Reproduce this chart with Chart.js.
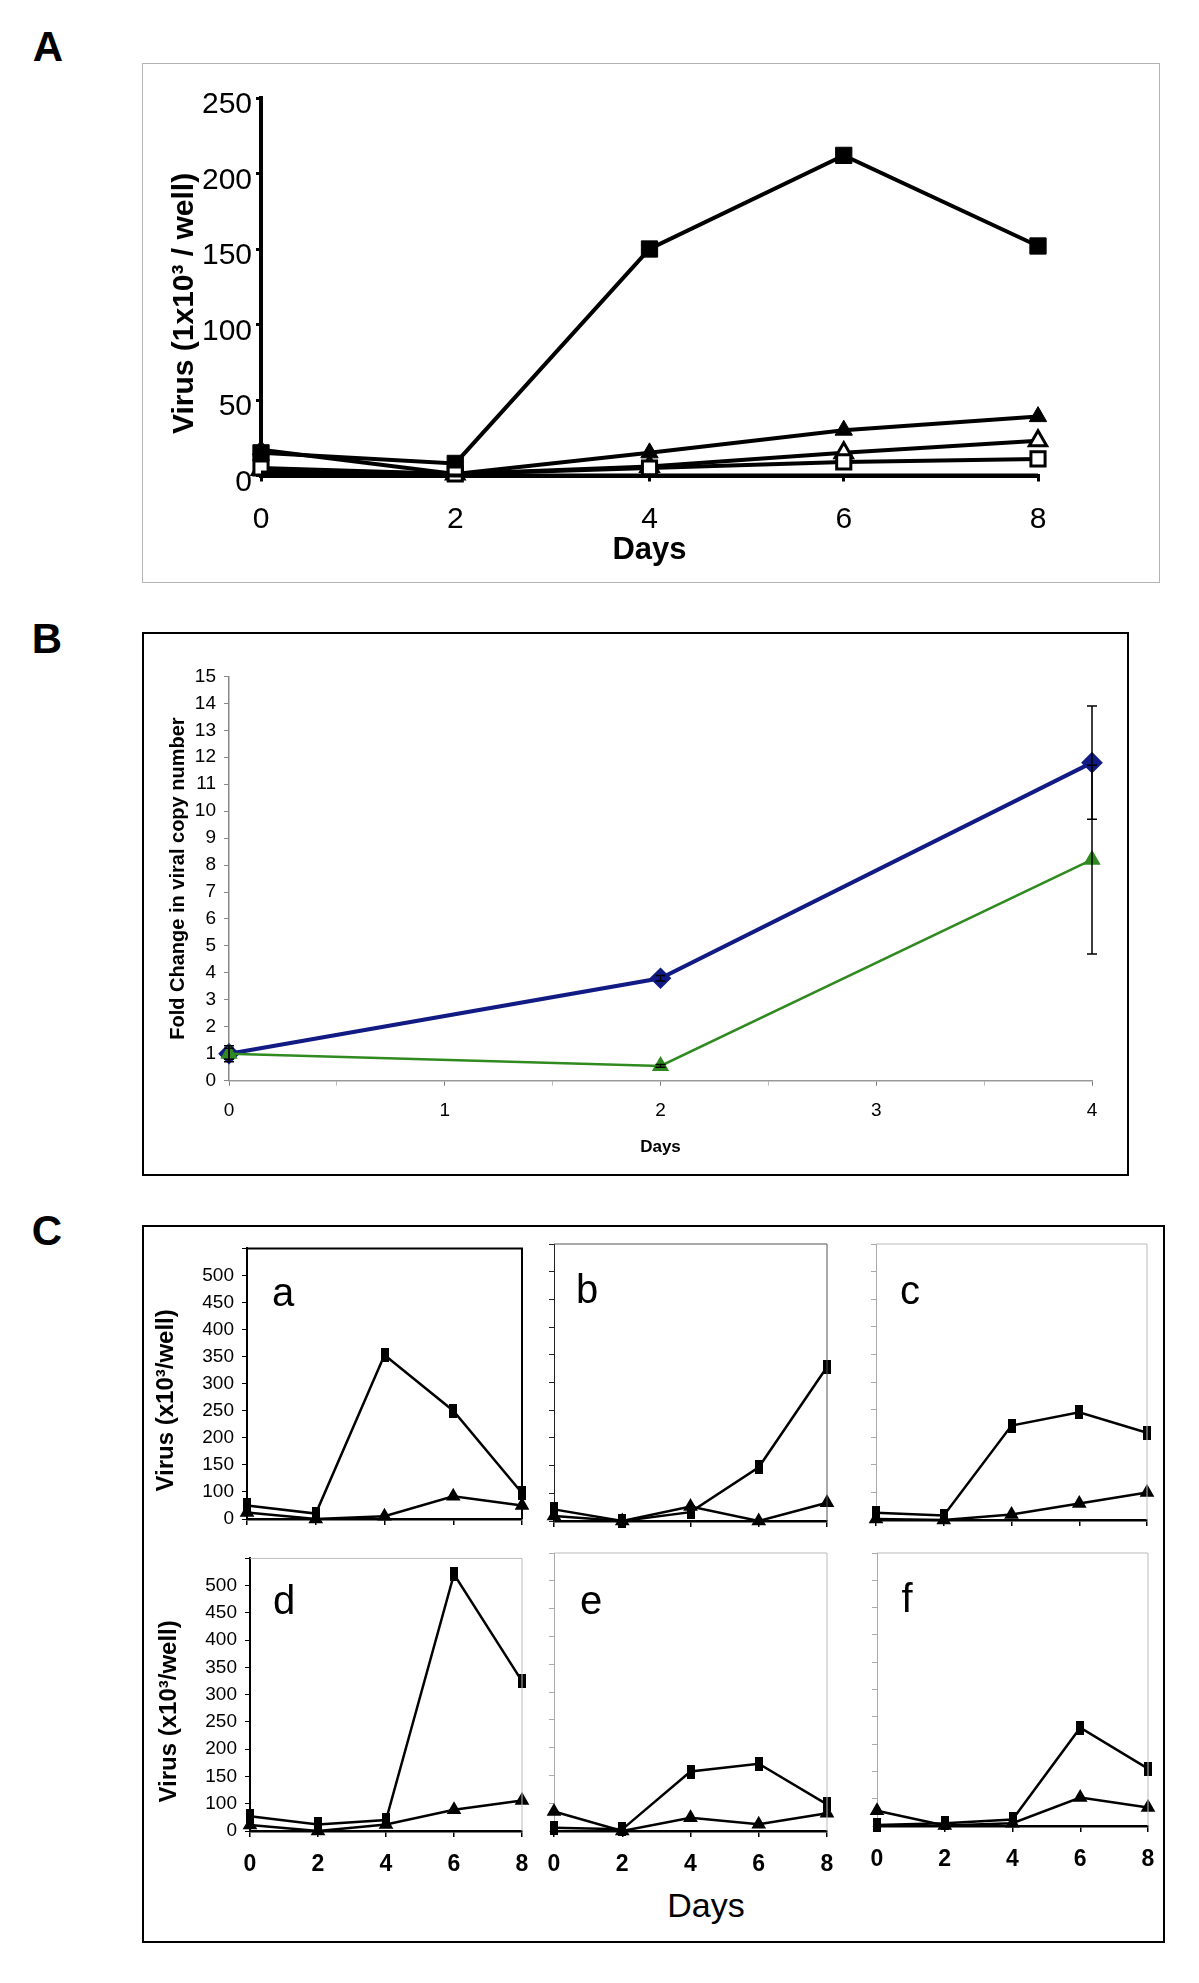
<!DOCTYPE html>
<html>
<head>
<meta charset="utf-8">
<script src="https://cdn.jsdelivr.net/npm/chart.js@4.4.1/dist/chart.umd.min.js"></script>
<style>
  body { margin: 0; background: #fff; width: 1199px; height: 1983px; position: relative; overflow: hidden; font-family: "Liberation Sans", Arial, sans-serif; }
  canvas, .lbl, .box { position: absolute; }
  .box { box-sizing: border-box; }
  .lbl { line-height: 1; white-space: nowrap; transform: translate(-50%, -50%); color: #000; }
</style>
</head>
<body>
<div class="lbl" style="left:48px;top:47px;font-weight:bold;font-size:42px">A</div>
<div class="box" style="left:142px;top:63px;width:1018px;height:520px;border:1px solid #b4b4b4"></div>
<canvas id="chartA" style="left:142px;top:64px" width="1018" height="519"></canvas>

<div class="lbl" style="left:47px;top:639px;font-weight:bold;font-size:42px">B</div>
<div class="box" style="left:142px;top:632px;width:987px;height:544px;border:2px solid #000"></div>
<canvas id="chartB" style="left:144px;top:634px" width="983" height="540"></canvas>

<div class="lbl" style="left:47px;top:1231px;font-weight:bold;font-size:42px">C</div>
<div class="box" style="left:142px;top:1225px;width:1023px;height:718px;border:2px solid #000"></div>
<canvas id="ca"></canvas>
<canvas id="cb"></canvas>
<canvas id="cc"></canvas>
<canvas id="cd"></canvas>
<canvas id="ce"></canvas>
<canvas id="cf"></canvas>
<div class="lbl" style="left:283px;top:1292px;font-size:40px">a</div>
<div class="lbl" style="left:587px;top:1289px;font-size:40px">b</div>
<div class="lbl" style="left:910px;top:1290px;font-size:40px">c</div>
<div class="lbl" style="left:284px;top:1600px;font-size:40px">d</div>
<div class="lbl" style="left:591px;top:1600px;font-size:40px">e</div>
<div class="lbl" style="left:907px;top:1598px;font-size:40px">f</div>
<div class="lbl" style="left:706px;top:1905px;font-size:34px">Days</div>

<script>
// ---- panel A : virus yield, five conditions ----
const daysA = [0, 2, 4, 6, 8];
const filledSquareA = [15, 8, 150, 212, 152];
const filledTriangleA = [17, 1, 15, 30, 39];
const openTriangleA = [4, 1, 6, 15, 23];
const openSquareA = [5, 1, 5, 9, 11];
const baselineA = [2, 0, 0, 0, 0];
const yTicksA = [0, 50, 100, 150, 200, 250];
const xTicksA = [0, 2, 4, 6, 8];

// ---- panel B : fold change in viral copy number ----
const daysB = [0, 2, 4];
const blueB = [1.0, 3.8, 11.8];
const blueErrB = [0.3, 0.1, 2.1];
const greenB = [1.0, 0.55, 8.2];
const greenErrB = [0.2, 0.05, 3.5];
const yTicksB = [0, 1, 2, 3, 4, 5, 6, 7, 8, 9, 10, 11, 12, 13, 14, 15];
const xTicksB = [0, 0.5, 1, 1.5, 2, 2.5, 3, 3.5, 4];
const xLabelsB = ['0', '1', '2', '3', '4'];

// ---- panel C : six small yield curves (axis line sits at the tick labelled "0") ----
const daysC = [0, 2, 4, 6, 8];
const yTicksC = [50, 100, 150, 200, 250, 300, 350, 400, 450, 500, 550];
const yLabelsC = ['0', '100', '150', '200', '250', '300', '350', '400', '450', '500', ''];
const squaresCa = [75, 60, 353, 250, 98];
const trianglesCa = [62, 50, 55, 92, 75];
const squaresCb = [71, 50, 66, 147, 328];
const trianglesCb = [59, 50, 76, 50, 83];
const squaresCc = [63, 58, 221, 245, 208];
const trianglesCc = [52, 50, 60, 80, 100];
const squaresCd = [77, 62, 70, 521, 325];
const trianglesCd = [61, 50, 62, 89, 106];
const squaresCe = [56, 53, 157, 171, 98];
const trianglesCe = [85, 50, 74, 62, 82];
const squaresCf = [52, 55, 62, 230, 155];
const trianglesCf = [78, 51, 55, 102, 84];

const FONT = "'Liberation Sans', Arial, sans-serif";

function points(xs, ys) {
  return xs.map((x, i) => ({ x: x, y: ys[i] }));
}

// draws the top and right edges of the plot area
const framePlugin = {
  id: 'frame',
  afterDraw(chart, args, opts) {
    if (!opts.color) return;
    const a = chart.chartArea, ctx = chart.ctx;
    ctx.save();
    ctx.strokeStyle = opts.color;
    ctx.lineWidth = opts.width || 1;
    ctx.beginPath();
    ctx.moveTo(a.left, a.top);
    ctx.lineTo(a.right, a.top);
    ctx.lineTo(a.right, a.bottom);
    ctx.stroke();
    ctx.restore();
  }
};

const errorBarPlugin = {
  id: 'errorBars',
  afterDatasetsDraw(chart) {
    const ctx = chart.ctx, xs = chart.scales.x, ys = chart.scales.y;
    ctx.save();
    ctx.strokeStyle = '#000';
    ctx.lineWidth = 1.5;
    chart.data.datasets.forEach(ds => {
      if (!ds.errors) return;
      ds.data.forEach((p, i) => {
        const px = xs.getPixelForValue(p.x);
        const top = ys.getPixelForValue(p.y + ds.errors[i]);
        const bot = ys.getPixelForValue(p.y - ds.errors[i]);
        ctx.beginPath();
        ctx.moveTo(px, top); ctx.lineTo(px, bot);
        ctx.moveTo(px - 5, top); ctx.lineTo(px + 5, top);
        ctx.moveTo(px - 5, bot); ctx.lineTo(px + 5, bot);
        ctx.stroke();
      });
    });
    ctx.restore();
  }
};

Chart.defaults.font.family = FONT;
Chart.defaults.color = '#000';

// ---------------- A ----------------
function seriesA(ys, style, fill, radius) {
  return {
    data: points(daysA, ys),
    borderColor: '#000',
    borderWidth: 4,
    pointStyle: style,
    pointRadius: radius,
    pointBackgroundColor: fill,
    pointBorderColor: '#000',
    pointBorderWidth: fill === '#fff' ? 3 : 1,
    clip: false
  };
}

new Chart(document.getElementById('chartA'), {
  type: 'line',
  data: {
    datasets: [
      seriesA(baselineA, 'circle', '#000', 0),
      seriesA(openSquareA, 'rect', '#fff', 10),
      seriesA(openTriangleA, 'triangle', '#fff', 10),
      seriesA(filledTriangleA, 'triangle', '#000', 10),
      seriesA(filledSquareA, 'rect', '#000', 11.5)
    ]
  },
  options: {
    responsive: false,
    animation: false,
    devicePixelRatio: 1,
    layout: { padding: { top: 34, right: 122, bottom: 0, left: 0 } },
    plugins: { legend: { display: false }, tooltip: { enabled: false } },
    scales: {
      x: {
        type: 'linear', min: 0, max: 8,
        afterBuildTicks: s => { s.ticks = xTicksA.map(v => ({ value: v })); },
        ticks: { font: { size: 30 }, padding: 20 },
        grid: { drawOnChartArea: false, tickLength: 6, color: '#000', lineWidth: 3 },
        border: { color: '#000', width: 4 },
        title: { display: true, text: 'Days', font: { size: 31, weight: 'bold' }, padding: { top: 0, bottom: 14 } },
        afterFit: s => { s.height = 107.5; }
      },
      y: {
        min: 0, max: 250,
        afterBuildTicks: s => { s.ticks = yTicksA.map(v => ({ value: v })); },
        ticks: { font: { size: 30 }, padding: 4, labelOffset: 7 },
        grid: { drawOnChartArea: false, tickLength: 5, color: '#000', lineWidth: 3 },
        border: { color: '#000', width: 4 },
        title: { display: true, text: 'Virus (1x10\u00b3 / well)\u00a0\u00a0\u00a0\u00a0', font: { size: 30, weight: 'bold' }, padding: { top: 25, bottom: 0 } },
        afterFit: s => { s.width = 119; }
      }
    }
  }
});

// ---------------- B ----------------
new Chart(document.getElementById('chartB'), {
  type: 'line',
  data: {
    datasets: [
      {
        data: points(daysB, greenB),
        errors: greenErrB,
        borderColor: '#2f8a1f',
        borderWidth: 2.5,
        pointStyle: 'triangle',
        pointRadius: 7.5,
        pointBackgroundColor: '#2f8a1f',
        pointBorderColor: '#2f8a1f',
        clip: false
      },
      {
        data: points(daysB, blueB),
        errors: blueErrB,
        borderColor: '#121a84',
        borderWidth: 4,
        pointStyle: 'rectRot',
        pointRadius: 8,
        pointBackgroundColor: '#121a84',
        pointBorderColor: '#121a84',
        clip: false
      }
    ]
  },
  options: {
    responsive: false,
    animation: false,
    devicePixelRatio: 1,
    layout: { padding: { top: 42.4, right: 35, bottom: 0, left: 0 } },
    plugins: { legend: { display: false }, tooltip: { enabled: false } },
    scales: {
      x: {
        type: 'linear', min: 0, max: 4,
        afterBuildTicks: s => { s.ticks = xTicksB.map(v => ({ value: v })); },
        ticks: {
          font: { size: 19 }, padding: 14,
          callback: v => Number.isInteger(v) ? xLabelsB[v] : ''
        },
        grid: {
          drawOnChartArea: false, tickLength: 5, lineWidth: 1,
          color: c => (c.tick && Number.isInteger(c.tick.value)) ? '#777' : '#bbb'
        },
        border: { color: '#999', width: 1.5 },
        title: { display: true, text: 'Days', font: { size: 17, weight: 'bold' }, padding: { top: 0, bottom: 16 } },
        afterFit: s => { s.height = 93.3; }
      },
      y: {
        min: 0, max: 15,
        afterBuildTicks: s => { s.ticks = yTicksB.map(v => ({ value: v })); },
        ticks: { font: { size: 19 }, padding: 8 },
        grid: { drawOnChartArea: false, tickLength: 5, color: '#888', lineWidth: 1 },
        border: { color: '#888', width: 1.5 },
        title: { display: true, text: 'Fold Change in viral copy number', font: { size: 20, weight: 'bold' }, padding: { top: 22, bottom: 0 } },
        afterFit: s => { s.width = 85; }
      }
    }
  },
  plugins: [errorBarPlugin]
});

// ---------------- C ----------------
const barMark = document.createElement('canvas');
barMark.width = 8; barMark.height = 14;
(function () { const c = barMark.getContext('2d'); c.fillStyle = '#000'; c.fillRect(0, 0, 8, 14); })();

const cLayout = [
  { id: 'ca', sq: squaresCa, tri: trianglesCa, left: 247, right: 522, top: 1243, bottom: 1519, yLabels: true,  xLabels: false, axis: '#000', frame: '#000' },
  { id: 'cb', sq: squaresCb, tri: trianglesCb, left: 554, right: 827, top: 1244, bottom: 1521, yLabels: false, xLabels: false, axis: '#222', frame: '#555' },
  { id: 'cc', sq: squaresCc, tri: trianglesCc, left: 876, right: 1147, top: 1244, bottom: 1520, yLabels: false, xLabels: false, axis: '#aaa', frame: '#bbb' },
  { id: 'cd', sq: squaresCd, tri: trianglesCd, left: 250, right: 522, top: 1553, bottom: 1831, yLabels: true,  xLabels: true,  axis: '#000', frame: '#bbb' },
  { id: 'ce', sq: squaresCe, tri: trianglesCe, left: 554, right: 827, top: 1553, bottom: 1831, yLabels: false, xLabels: true,  axis: '#aaa', frame: '#bbb' },
  { id: 'cf', sq: squaresCf, tri: trianglesCf, left: 877, right: 1148, top: 1553, bottom: 1826, yLabels: false, xLabels: true,  axis: '#aaa', frame: '#bbb' }
];

function smallChart(p) {
  const yW = p.yLabels ? 104 : 24;
  const padTop = 14;
  const padRight = p.xLabels ? 24 : 14;   // room for the last tick label plus its padding
  const xH = p.xLabels ? 50 : 20;
  const canvas = document.getElementById(p.id);
  canvas.width = (p.right - p.left) + yW + padRight;
  canvas.height = (p.bottom - p.top) + padTop + xH;
  canvas.style.left = (p.left - yW) + 'px';
  canvas.style.top = (p.top - padTop) + 'px';

  const line = (ys, style, r) => ({
    data: points(daysC, ys),
    borderColor: '#000',
    borderWidth: 2.5,
    pointStyle: style,
    pointRadius: r,
    pointBackgroundColor: '#000',
    pointBorderColor: '#000',
    clip: false
  });

  new Chart(canvas, {
    type: 'line',
    data: { datasets: [line(p.tri, 'triangle', 6), line(p.sq, barMark, 6)] },
    options: {
      responsive: false,
      animation: false,
      devicePixelRatio: 1,
      layout: { padding: { top: padTop, right: padRight, bottom: 0, left: 0 } },
      plugins: { legend: { display: false }, tooltip: { enabled: false }, frame: { color: p.frame, width: p.frame === '#000' ? 2 : 1 } },
      scales: {
        x: {
          type: 'linear', min: 0, max: 8,
          afterBuildTicks: s => { s.ticks = daysC.map(v => ({ value: v })); },
          ticks: { display: p.xLabels, font: { size: 23, weight: 'bold' }, padding: 14 },
          grid: { drawOnChartArea: false, tickLength: 6, color: '#000', lineWidth: 1.5 },
          border: { color: '#000', width: 2.5 },
          afterFit: s => { s.height = xH; }
        },
        y: {
          min: 50, max: 550,
          afterBuildTicks: s => { s.ticks = yTicksC.map(v => ({ value: v })); },
          ticks: {
            display: p.yLabels, font: { size: 19 }, padding: 8,
            callback: (v, i) => yLabelsC[i]
          },
          grid: { drawOnChartArea: false, tickLength: 5, color: p.axis, lineWidth: 1 },
          border: { color: p.axis, width: p.axis === '#000' ? 2 : 1 },
          title: {
            display: p.yLabels,
            text: 'Virus (x10\u00b3/well)\u00a0\u00a0\u00a0\u00a0\u00a0',
            font: { size: 24, weight: 'bold' },
            padding: { top: 9, bottom: 0 }
          },
          afterFit: s => { s.width = yW; }
        }
      }
    },
    plugins: [framePlugin]
  });
}

cLayout.forEach(smallChart);
</script>
</body>
</html>
